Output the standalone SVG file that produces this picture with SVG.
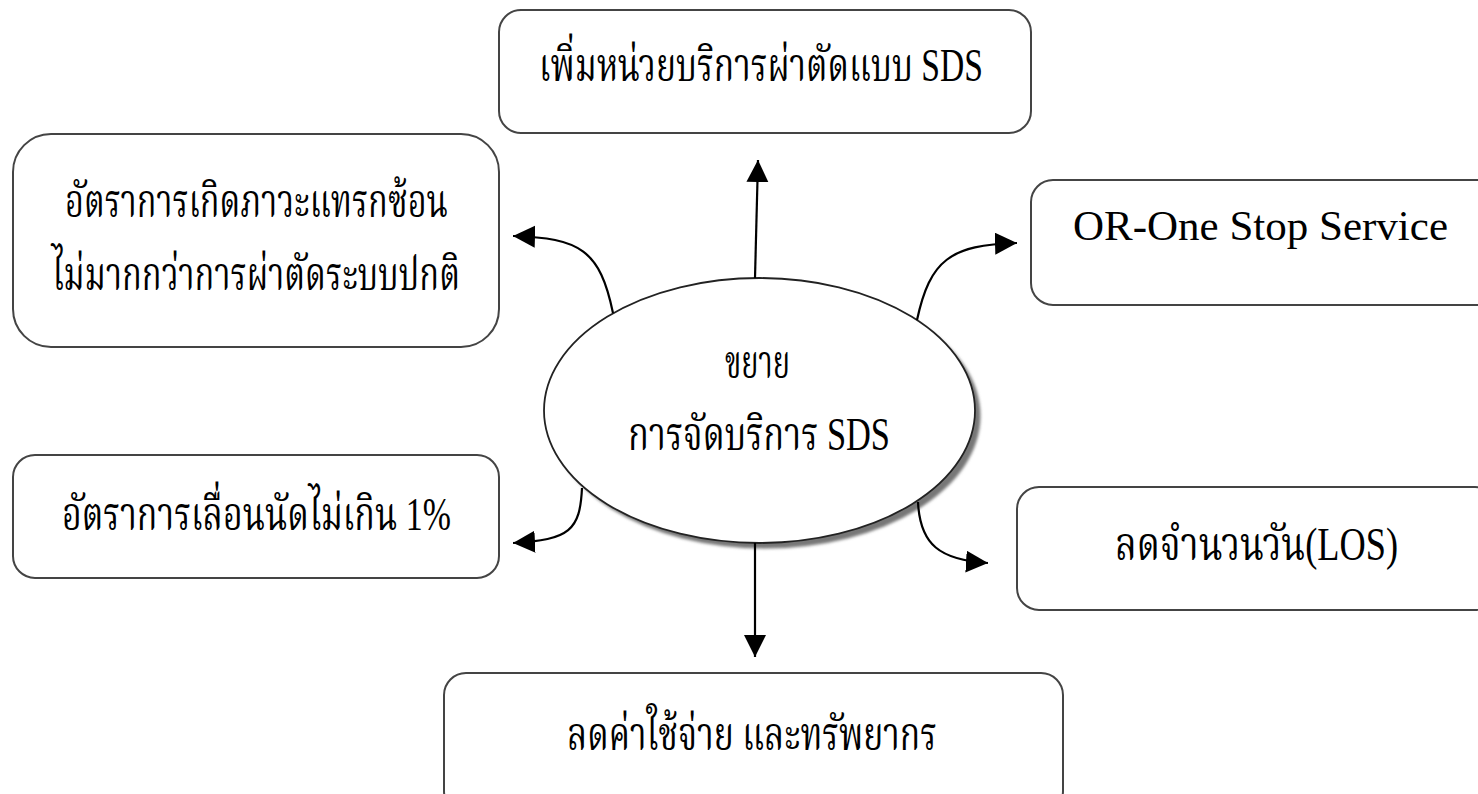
<svg xmlns="http://www.w3.org/2000/svg" width="1478" height="794" viewBox="0 0 1478 794">
<style>
.box{fill:#fff;stroke:#444;stroke-width:2}
.t{font-family:"Liberation Serif","Noto Serif Thai","Noto Sans Thai",serif;font-size:46px;fill:#000}
.l{font-family:"Liberation Serif","Times New Roman",serif;font-size:42px;fill:#000}
.c{fill:none;stroke:#000;stroke-width:2.2}
</style>
<defs>
<marker id="ah" markerUnits="userSpaceOnUse" markerWidth="24" markerHeight="24" refX="22" refY="11" orient="auto">
<path d="M0,0 L22,11 L0,22 z" fill="#000"/>
</marker>
<filter id="blur" x="-10%" y="-10%" width="120%" height="120%"><feGaussianBlur stdDeviation="1.5"/></filter>
</defs>
<rect width="1478" height="794" fill="#fff"/>
<g id="center">
<ellipse cx="765" cy="416" rx="215.5" ry="132.5" fill="#777" filter="url(#blur)"/>
<ellipse cx="759.5" cy="410.5" rx="215.5" ry="132.5" fill="#fff" stroke="#222" stroke-width="1.8"/>
<text class="t" x="725" y="378" textLength="65" lengthAdjust="spacingAndGlyphs">ขยาย</text>
<text class="t" x="628" y="450" textLength="262" lengthAdjust="spacingAndGlyphs">การจัดบริการ SDS</text>
</g>
<g id="top">
<rect class="box" x="499" y="10" width="532" height="123" rx="22"/>
<text class="t" x="539" y="81" textLength="444" lengthAdjust="spacingAndGlyphs">เพิ่มหน่วยบริการผ่าตัดแบบ SDS</text>
</g>
<g id="topleft">
<rect class="box" x="13" y="134" width="486" height="213" rx="38"/>
<text class="t" x="65" y="217" textLength="383" lengthAdjust="spacingAndGlyphs">อัตราการเกิดภาวะแทรกซ้อน</text>
<text class="t" x="52" y="290" textLength="408" lengthAdjust="spacingAndGlyphs">ไม่มากกว่าการผ่าตัดระบบปกติ</text>
</g>
<g id="topright">
<rect class="box" x="1031" y="180" width="470" height="125" rx="22"/>
<text class="l" x="1073" y="240" textLength="375" lengthAdjust="spacingAndGlyphs">OR-One Stop Service</text>
</g>
<g id="bottomleft">
<rect class="box" x="13" y="455" width="486" height="123" rx="22"/>
<text class="t" x="62" y="530" textLength="389" lengthAdjust="spacingAndGlyphs">อัตราการเลื่อนนัดไม่เกิน 1%</text>
</g>
<g id="bottomright">
<rect class="box" x="1017" y="487" width="480" height="123" rx="22"/>
<text class="t" x="1115" y="560" textLength="283" lengthAdjust="spacingAndGlyphs">ลดจำนวนวัน(LOS)</text>
</g>
<g id="bottom">
<rect class="box" x="444" y="673" width="619" height="140" rx="22"/>
<text class="t" x="567" y="750" textLength="370" lengthAdjust="spacingAndGlyphs">ลดค่าใช้จ่าย และทรัพยากร</text>
</g>
<g id="connectors">
<path class="c" d="M755,278 L758,160" marker-end="url(#ah)"/>
<path class="c" d="M613,313 C600,250 580,238 513,236" marker-end="url(#ah)"/>
<path class="c" d="M917,320 C930,260 950,245 1017,243" marker-end="url(#ah)"/>
<path class="c" d="M582,488 C580,530 570,540 513,543" marker-end="url(#ah)"/>
<path class="c" d="M918,502 C920,545 940,560 988,563" marker-end="url(#ah)"/>
<path class="c" d="M755,543 L755,657" marker-end="url(#ah)"/>
</g>
</svg>
